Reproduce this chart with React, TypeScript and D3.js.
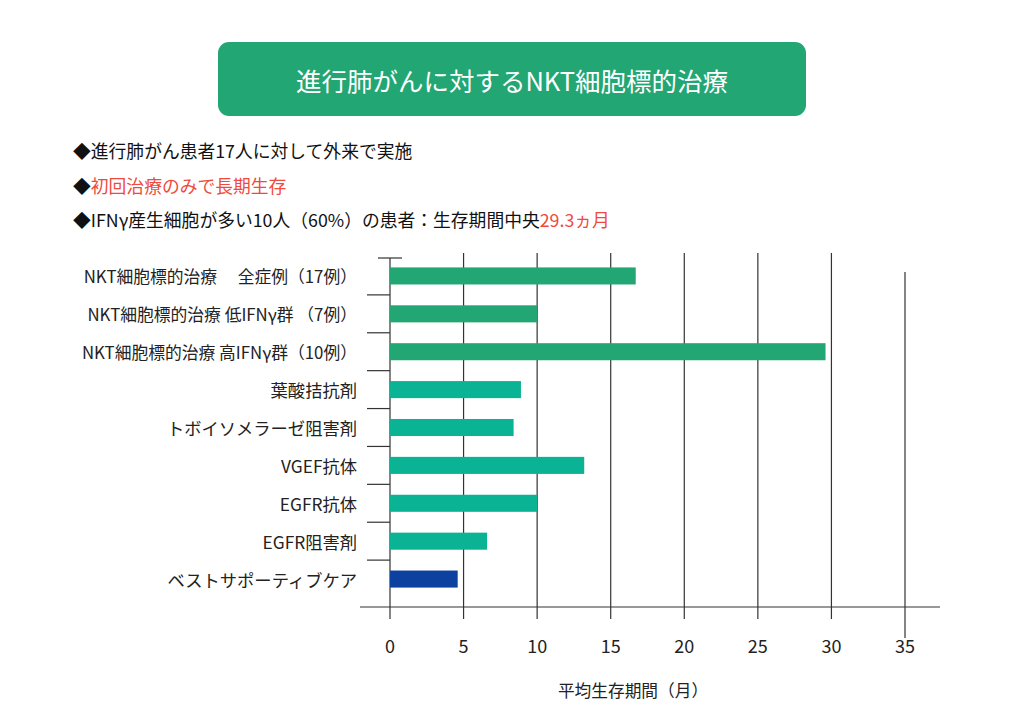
import React from "react"
import * as d3 from "d3"

const categories = [
  "NKT細胞標的治療　 全症例（17例）",
  "NKT細胞標的治療 低IFNγ群 （7例）",
  "NKT細胞標的治療 高IFNγ群（10例）",
  "葉酸拮抗剤",
  "トボイソメラーゼ阻害剤",
  "VGEF抗体",
  "EGFR抗体",
  "EGFR阻害剤",
  "ベストサポーティブケア",
]
const values = [16.7, 10.0, 29.6, 8.9, 8.4, 13.2, 10.0, 6.6, 4.6]
const groups = ["nkt", "nkt", "nkt", "chemo", "chemo", "chemo", "chemo", "chemo", "bsc"]
const xTicks = [0, 5, 10, 15, 20, 25, 30, 35]

const colors: Record<string, string> = {
  nkt: "#22a673",
  chemo: "#0ab394",
  bsc: "#0c41a0",
}

const FONT = "'Noto Sans CJK JP', 'Noto Sans', sans-serif"

export default function App() {
  const width = 1024
  const height = 724

  const x = d3.scaleLinear().domain([0, 35]).range([390, 905])
  const y = d3.scaleBand<string>().domain(categories).range([257, 598]).paddingInner(0.55).paddingOuter(0.275)
  const step = y.step()
  const baseY = 607

  return (
    <svg
      width={width}
      height={height}
      style={{ position: "absolute", left: 0, top: 0, background: "#fff" }}
      fontFamily={FONT}
    >
      {/* header */}
      <rect x={218} y={42} width={588} height={74} rx={11} fill="#22a673" />
      <text x={512} y={79} textAnchor="middle" dominantBaseline="central" fill="#fff" fontSize={25.5}>
        進行肺がんに対するNKT細胞標的治療
      </text>

      <text x={73} y={150} dominantBaseline="central" fontSize={17.8} fill="#111">
        ◆進行肺がん患者17人に対して外来で実施
      </text>
      <text x={73} y={185} dominantBaseline="central" fontSize={17.8} fill="#111">
        ◆<tspan fill="#ef4a3c">初回治療のみで長期生存</tspan>
      </text>
      <text x={73} y={219} dominantBaseline="central" fontSize={17.8} fill="#111">
        ◆IFNγ産生細胞が多い10人（60%）の患者：生存期間中央<tspan fill="#ef4a3c">29.3ヵ月</tspan>
      </text>

      {/* grid */}
      {xTicks.map((t) => {
        const top = t === 0 ? 258 : t === 35 ? 272 : 253
        const bottom = t === 35 ? 638 : 619
        return (
          <line key={t} x1={x(t)} x2={x(t)} y1={top} y2={bottom} stroke="#333" strokeWidth={1.2} />
        )
      })}

      {/* baseline */}
      <line x1={360} x2={940} y1={baseY} y2={baseY} stroke="#333" strokeWidth={1.2} />
      <line x1={378} x2={402} y1={258} y2={258} stroke="#333" strokeWidth={1.2} />

      {/* row separators */}
      {categories.slice(1).map((c) => {
        const yy = (y(c) as number) - (step - y.bandwidth()) / 2
        return <line key={c} x1={367} x2={390} y1={yy} y2={yy} stroke="#333" strokeWidth={1.2} />
      })}

      {/* bars */}
      {categories.map((c, i) => (
        <rect
          key={c}
          x={x(0)}
          y={y(c)}
          width={x(values[i]) - x(0)}
          height={y.bandwidth()}
          fill={colors[groups[i]]}
        />
      ))}

      {/* category labels */}
      {categories.map((c, i) => (
        <text
          key={c}
          x={357}
          y={(y(c) as number) + y.bandwidth() / 2}
          textAnchor="end"
          dominantBaseline="central"
          fontSize={i < 3 ? 16.8 : 17.3}
          fill="#222"
        >
          {c}
        </text>
      ))}

      {/* tick labels */}
      {xTicks.map((t) => (
        <text key={t} x={x(t)} y={645} textAnchor="middle" dominantBaseline="central" fontSize={18} fill="#222">
          {t}
        </text>
      ))}

      <text x={633} y={690} textAnchor="middle" dominantBaseline="central" fontSize={16.7} fill="#222">
        平均生存期間（月）
      </text>
    </svg>
  )
}
